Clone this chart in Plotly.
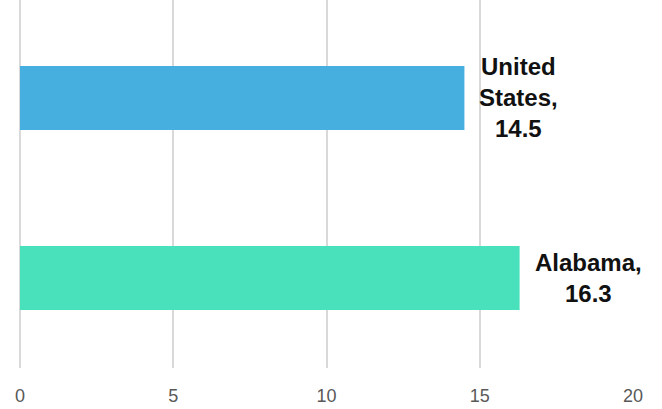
import plotly.graph_objects as go

# data
places = ["Alabama", "United States"]
values = [16.3, 14.5]
labels = ["Alabama,<br>16.3", "United<br>States,<br>14.5"]
colors = ["#49E0BC", "#47AFDF"]

fig = go.Figure()
fig.add_trace(go.Bar(
    y=places,
    x=values,
    orientation="h",
    marker=dict(color=colors, line=dict(width=0)),
    width=0.356,
    hoverinfo="skip",
))

# value labels to the right of each bar
for p, v, t in zip(places, values, labels):
    fig.add_annotation(
        x=v, y=p, text=t, showarrow=False,
        xanchor="left", yanchor="middle", align="center",
        xshift=13,
        font=dict(family="Liberation Sans", size=24, color="#111111", weight="bold"),
    )

fig.update_layout(
    width=662,
    height=409,
    margin=dict(l=20, r=29, t=0, b=41, autoexpand=False),
    paper_bgcolor="white",
    plot_bgcolor="white",
    showlegend=False,
    xaxis=dict(
        range=[0, 20],
        tickvals=[0, 5, 10, 15, 20],
        showgrid=True,
        gridcolor="#D9D9D9",
        gridwidth=1.5,
        zeroline=True,
        zerolinecolor="#D9D9D9",
        zerolinewidth=1.5,
        showline=False,
        ticks="",
        automargin=False,
        ticklabelstandoff=15,
        tickfont=dict(family="Liberation Sans", size=18, color="#595959"),
    ),
    yaxis=dict(
        range=[-0.5, 1.544],
        showticklabels=False,
        showgrid=False,
        zeroline=False,
        showline=False,
        ticks="",
        automargin=False,
    ),
)

fig.write_html(
    "out.html",
    config={"displayModeBar": False},
    post_script="document.body.style.margin='0';",
)
